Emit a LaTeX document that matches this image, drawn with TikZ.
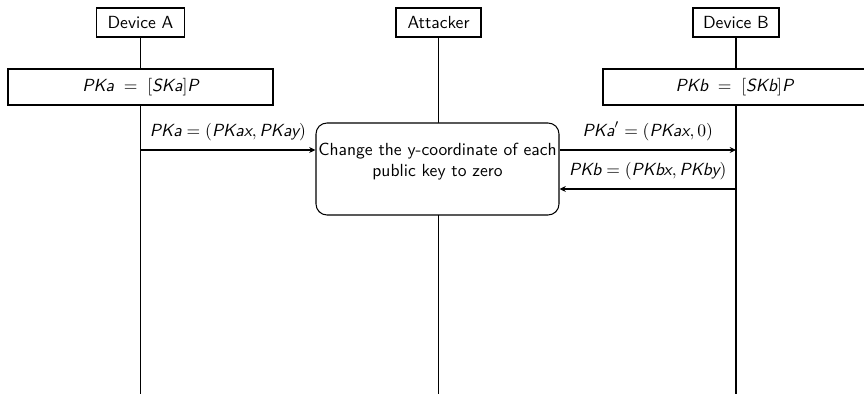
\documentclass[tikz,border=0pt]{standalone}
\usetikzlibrary{calc,arrows.meta}
\newcommand{\vn}[1]{\textit{#1}}
% one pixel of the layout grid
\def\u{0.57pt}
\begin{document}
\begin{tikzpicture}[x=\u,y=-\u,
  font=\sffamily,
  actor/.style={draw,line width=0.6pt,fill=white,minimum height={29*\u},inner sep=2pt},
  calcbox/.style={draw,line width=0.6pt,fill=white,minimum height={36*\u},inner sep=2pt},
  attackbox/.style={draw,line width=0.6pt,fill=white,rounded corners={11*\u},
    minimum width={243*\u},minimum height={92*\u}},
  life/.style={line width=0.9pt},
  msg/.style={-{Stealth[length=3.6pt,width=3.4pt]},line width=0.6pt},
  msglabel/.style={above,inner sep=5pt}]
  \useasboundingbox (0,0) rectangle (864,394);

  % participants
  \node[actor,minimum width={88*\u}] (devA) at (140.5,22.5) {Device A};
  \node[actor,minimum width={85*\u}] (att) at (438.5,22.5) {Attacker};
  \node[actor,minimum width={86*\u}] (devB) at (736,22.5) {Device B};

  % lifelines
  \coordinate (endA) at (devA |- 0,394);
  \coordinate (endT) at (att |- 0,394);
  \coordinate (endB) at (devB |- 0,394);
  \draw[life] (devA.south) -- (endA);
  \draw[life] (att.south) -- (endT);
  \draw[life] (devB.south) -- (endB);

  % key generation
  \node[calcbox,minimum width={265*\u}] (genA) at (140.5,87) {$\vn{PKa} \;=\; [\vn{SKa}]\vn{P}$};
  \node[calcbox,minimum width={263*\u}] (genB) at (734.5,87) {$\vn{PKb} \;=\; [\vn{SKb}]\vn{P}$};

  % attacker action
  \node[attackbox] (mitm) at (437.5,169) {};
  \node[align=center,inner sep=0pt] (mitmtxt) at ($(mitm.center)+(0,-7)$)
    {Change the y-coordinate of each\\public key to zero};

  % messages
  \coordinate (m1) at (0,150);
  \coordinate (m2) at (0,189);
  \draw[msg] (m1 -| devA) -- node[msglabel] {$\vn{PKa} = (\vn{PKax}, \vn{PKay})$} (m1 -| mitm.west);
  \draw[msg] (m1 -| mitm.east) -- node[msglabel] {$\vn{PKa}' = (\vn{PKax}, 0)$} (m1 -| devB);
  \draw[msg] (m2 -| devB) -- node[msglabel] {$\vn{PKb} = (\vn{PKbx}, \vn{PKby})$} (m2 -| mitm.east);
\end{tikzpicture}
\end{document}
